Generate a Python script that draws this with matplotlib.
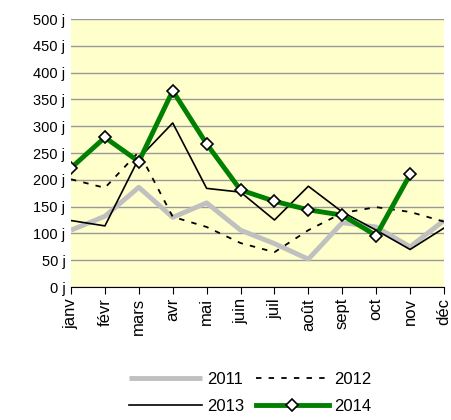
import matplotlib.pyplot as plt
from matplotlib.ticker import FuncFormatter

plt.rcParams['font.family'] = ['Liberation Sans', 'DejaVu Sans']

months = ['janv', 'févr', 'mars', 'avr', 'mai', 'juin', 'juil', 'août', 'sept', 'oct', 'nov', 'déc']
y2011 = [106, 132, 186, 130, 157, 106, 81, 52, 120, 112, 75, 124]
y2012 = [201, 185, 252, 131, 112, 82, 65, 106, 138, 149, 140, 122]
y2013 = [124, 114, 240, 306, 184, 177, 125, 188, 140, 106, 70, 110]
y2014 = [222, 279, 234, 366, 267, 181, 160, 144, 134, 96, 210]

fig = plt.figure(figsize=(4.51, 4.2), dpi=100)
ax = fig.add_axes([71 / 451, 1 - 287 / 420, 373 / 451, 268 / 420])
ax.set_facecolor('#FFFFCC')

x = list(range(len(months)))
l1, = ax.plot(x, y2011, color='#C0C0C0', lw=3.5, label='2011', solid_capstyle='butt')
l2, = ax.plot(x, y2012, color='black', lw=1.3, ls=(0, (3, 4)), label='2012')
l3, = ax.plot(x, y2013, color='black', lw=1.2, label='2013')
l4, = ax.plot(x[:len(y2014)], y2014, color='#008000', lw=3.5, marker='D', ms=6.5,
              mfc='white', mec='black', mew=1.2, label='2014')

ax.set_xlim(0, 11)
ax.set_ylim(0, 500)
ax.set_yticks(range(0, 501, 50))
ax.yaxis.set_major_formatter(FuncFormatter(lambda v, p: f'{int(v)} j'))
ax.yaxis.grid(True, color='#999999', lw=1)
ax.set_axisbelow(True)
ax.set_xticks(x)
ax.set_xticklabels(months, rotation=90, fontsize=12)
ax.tick_params(axis='y', length=0, labelsize=10.5, pad=4)
ax.tick_params(axis='x', direction='out', length=5, color='black', pad=3)
for s in ['left', 'right', 'top']:
    ax.spines[s].set_visible(False)
ax.spines['bottom'].set_color('black')

# row-wise order: 2011 2012 / 2013 2014
handles = [l1, l3, l2, l4]
fig.legend(handles, [h.get_label() for h in handles], ncol=2, loc='center',
           bbox_to_anchor=(250 / 451, 1 - 393 / 420),
           frameon=False, fontsize=12, handlelength=4.4, columnspacing=0.7,
           handletextpad=0.3, labelspacing=0.75)

fig.savefig('out.png', dpi=100)
